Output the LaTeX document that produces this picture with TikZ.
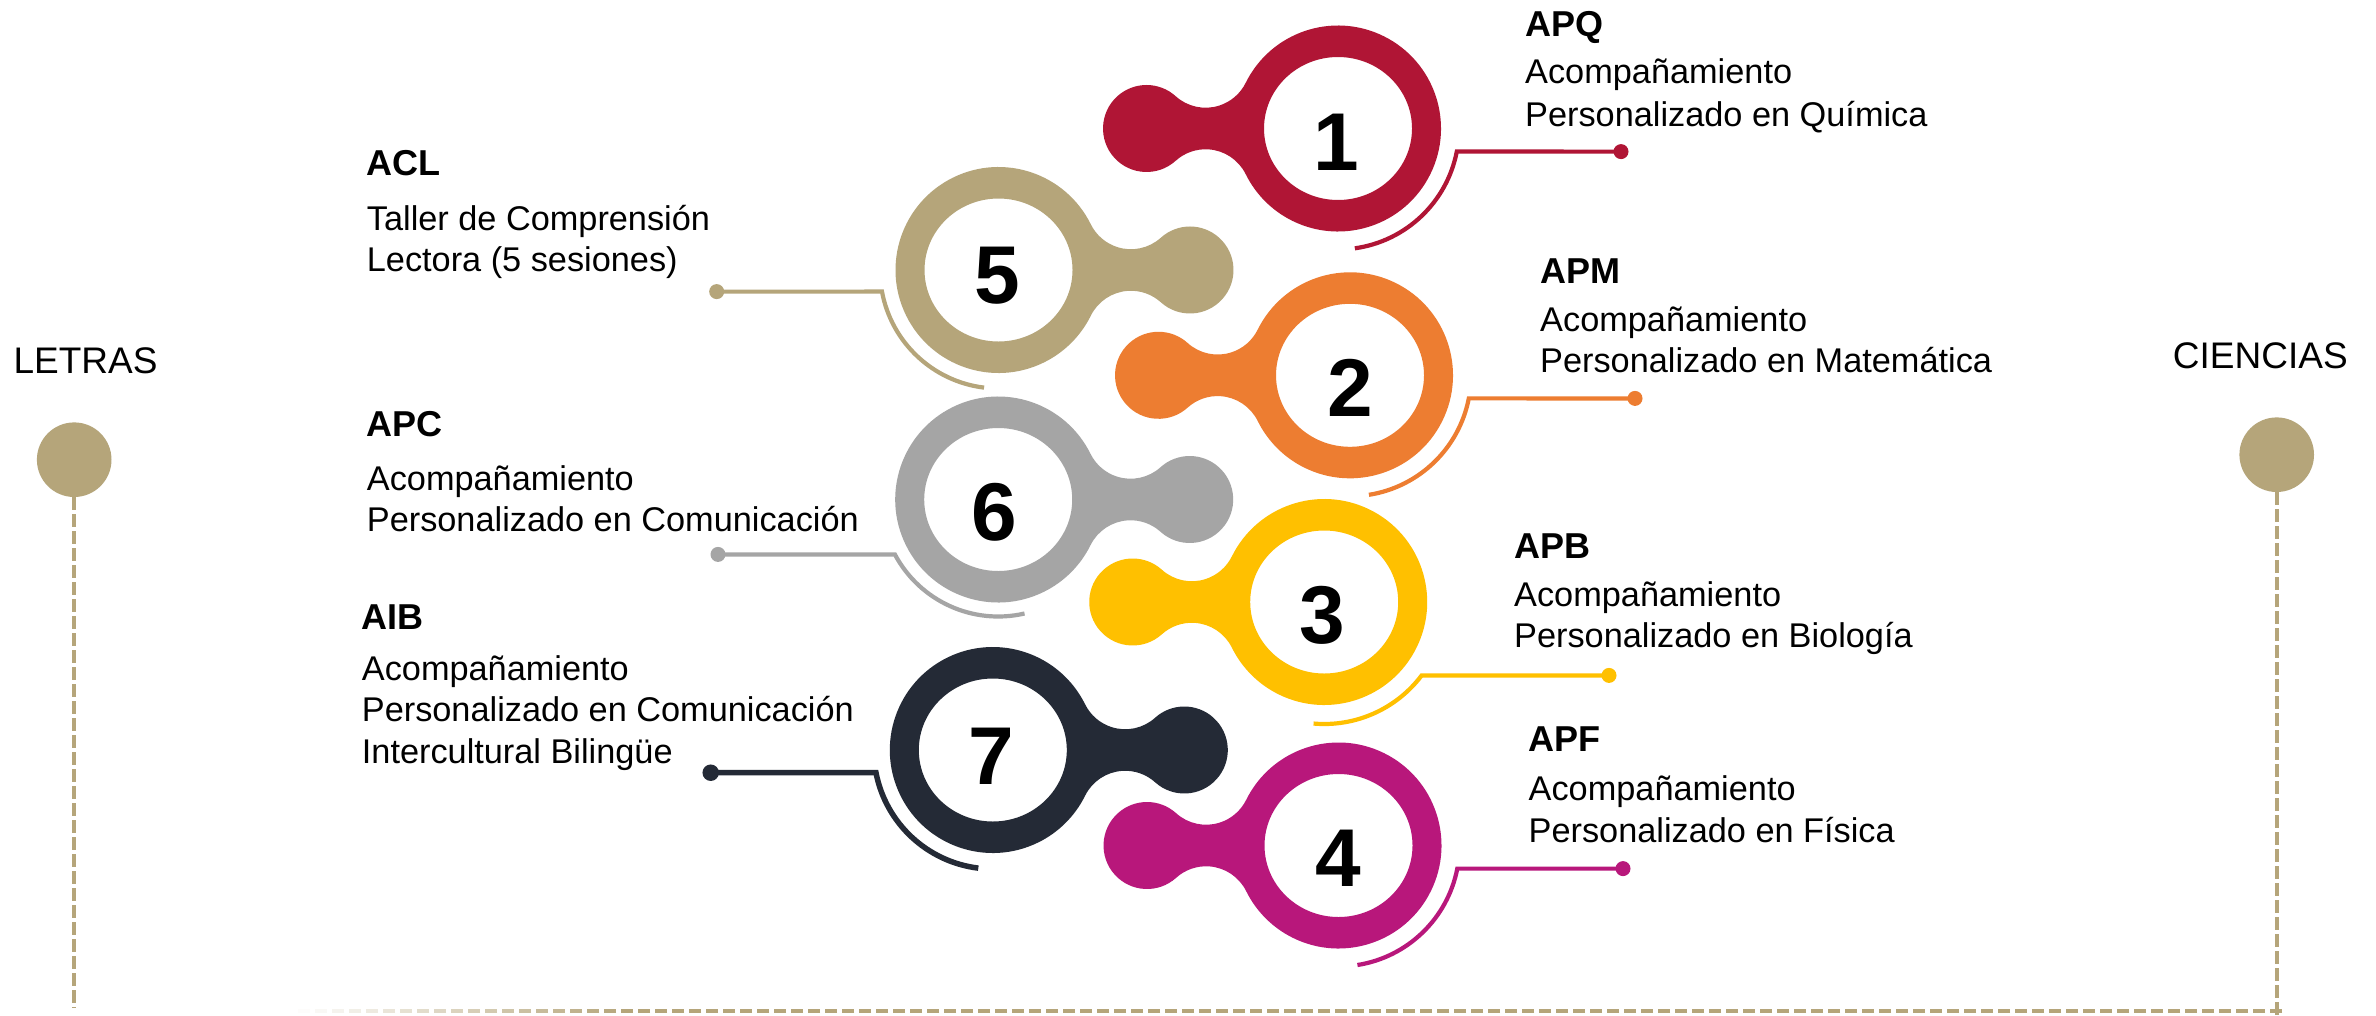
\documentclass[tikz,border=0pt]{standalone}
\usepackage{fontspec}
\setmainfont{Liberation Sans}
\definecolor{cRed}{HTML}{B01535}
\definecolor{cOrange}{HTML}{ED7D31}
\definecolor{cYellow}{HTML}{FFC000}
\definecolor{cMagenta}{HTML}{B8177B}
\definecolor{cTan}{HTML}{B5A57A}
\definecolor{cGray}{HTML}{A5A5A5}
\definecolor{cDark}{HTML}{242A36}
\newcommand\blobshape[4]{%
  \begin{scope}[shift={(#2,#3)}, xscale=#4]
    \fill[#1, even odd rule] (-26.31:103) arc[start angle=-26.31, end angle=-333.69, radius=103]
      arc[start angle=-153.69, end angle=-47.93, radius=44.7]
      arc[start angle=132.07, end angle=-132.07, radius=43.5]
      arc[start angle=47.93, end angle=153.69, radius=44.7] -- cycle
      (0,0) ellipse[x radius=74, y radius=71.5];
  \end{scope}}
\begin{document}
\begin{tikzpicture}[x=1pt, y=-1pt,
  hdr/.style={font=\fontsize{36}{40}\selectfont\bfseries, anchor=base west, inner sep=0pt},
  txt/.style={font=\fontsize{34.3}{40}\selectfont, anchor=base west, inner sep=0pt},
  num/.style={font=\fontsize{82}{90}\selectfont\bfseries, anchor=base, inner sep=0pt},
  side/.style={font=\fontsize{37}{40}\selectfont, anchor=base west, inner sep=0pt},
  dotnode/.style={circle, fill=#1, minimum size=15pt, inner sep=0pt},
  conn/.style={draw=#1, line width=4.2pt},
  dashline/.style={draw=cTan, line width=4pt, dash pattern=on 12.5pt off 4.5pt}]
\fill[white] (0,0) rectangle (2376,1015);
\useasboundingbox (0,0) rectangle (2376,1015);

% ring centres
\coordinate (c1) at (1338,128.5);
\coordinate (c2) at (1350,375.3);
\coordinate (c3) at (1324.2,602);
\coordinate (c4) at (1338.5,845.5);
\coordinate (c5) at (998.5,270);
\coordinate (c6) at (998.2,499.5);
\coordinate (c7) at (992.8,750);

% shapes
\blobshape{cRed}{1338}{128.5}{-1}
\blobshape{cOrange}{1350}{375.3}{-1}
\blobshape{cYellow}{1324.2}{602}{-1}
\blobshape{cMagenta}{1338.5}{845.5}{-1}
\blobshape{cTan}{998.5}{270}{1}
\blobshape{cGray}{998.2}{499.5}{1}
\blobshape{cDark}{992.8}{750}{1}

% numbers
\node[num] (n1) at (1336,170.5) {1};
\node[num] (n2) at (1350.3,416.5) {2};
\node[num] (n3) at (1322.5,643.5) {3};
\node[num] (n4) at (1338.3,886) {4};
\node[num] (n5) at (997.3,303.5) {5};
\node[num] (n6) at (994,540) {6};
\node[num] (n7) at (991.7,784) {7};

% connector corners
\coordinate (k1) at ([shift={(11:121)}]c1);
\coordinate (k2) at ([shift={(11:121)}]c2);
\coordinate (k3) at ([shift={(37:122)}]c3);
\coordinate (k4) at ([shift={(11:121)}]c4);
\coordinate (k5) at ([shift={(169.5:118.5)}]c5);
\coordinate (k6) at ([shift={(152:117)}]c6);
\coordinate (k7) at ([shift={(169:119)}]c7);

% dots
\node[dotnode=cRed] (d1) at (1621,151.6) {};
\node[dotnode=cOrange] (d2) at (1635,398.4) {};
\node[dotnode=cYellow] (d3) at (1609,675.4) {};
\node[dotnode=cMagenta] (d4) at (1623,868.6) {};
\node[dotnode=cTan] (d5) at (716.7,291.6) {};
\node[dotnode=cGray] (d6) at (718,554.4) {};
\node[dotnode=cDark, minimum size=16.5pt] (d7) at (710.7,772.7) {};

% connectors
\draw[conn=cRed] (d1.center) -- (k1) arc[start angle=11, end angle=82, radius=121];
\draw[conn=cOrange] (d2.center) -- (k2) arc[start angle=11, end angle=81, radius=121];
\draw[conn=cYellow] (d3.center) -- (k3) arc[start angle=37, end angle=95, radius=122];
\draw[conn=cMagenta] (d4.center) -- (k4) arc[start angle=11, end angle=81, radius=121];
\draw[conn=cTan] (d5.center) -- (k5) arc[start angle=169.5, end angle=97, radius=118.5];
\draw[conn=cGray] (d6.center) -- (k6) arc[start angle=152, end angle=77, radius=117];
\draw[conn=cDark, line width=5.5pt] (d7.center) -- (k7) arc[start angle=169, end angle=97, radius=119];

% right texts
\node[hdr] (hq) at (1525,36) {APQ};
\node[txt] (q1) at (1525,83.3) {Acompañamiento};
\node[txt] (q2) at (1525,126) {Personalizado en Química};
\node[hdr] (hm) at (1540,283.3) {APM};
\node[txt] (m1) at (1540,331.7) {Acompañamiento};
\node[txt] (m2) at (1540,372.5) {Personalizado en Matemática};
\node[hdr] (hb) at (1514,558.3) {APB};
\node[txt] (b1) at (1514,606.7) {Acompañamiento};
\node[txt] (b2) at (1514,647.3) {Personalizado en Biología};
\node[hdr] (hf) at (1528.5,751.7) {APF};
\node[txt] (f1) at (1528.5,800) {Acompañamiento};
\node[txt] (f2) at (1528.5,842.7) {Personalizado en Física};

% left texts
\node[hdr] (hl) at (366.7,175) {ACL};
\node[txt] (l1) at (366.7,230) {Taller de Comprensión};
\node[txt] (l2) at (366.7,271.7) {Lectora (5 sesiones)};
\node[hdr] (hc) at (366.7,436) {APC};
\node[txt] (p1) at (366.7,490) {Acompañamiento};
\node[txt] (p2) at (366.7,531) {Personalizado en Comunicación};
\node[hdr] (hi) at (361.7,629.3) {AIB};
\node[txt] (i1) at (361.7,680) {Acompañamiento};
\node[txt] (i2) at (361.7,721.7) {Personalizado en Comunicación};
\node[txt] (i3) at (361.7,763.3) {Intercultural Bilingüe};

% side labels and timeline
\node[side] (letras) at (13.3,373.3) {LETRAS};
\node[side] (ciencias) at (2172.7,368.8) {CIENCIAS};
\node[circle, fill=cTan, minimum size=74.6pt, inner sep=0pt] (bl) at (74.2,459.7) {};
\node[circle, fill=cTan, minimum size=74.6pt, inner sep=0pt] (br) at (2276.7,454.7) {};
\coordinate (el) at (74.2,1008);
\coordinate (er) at (2276.7,1015);
\draw[dashline] (bl.south) -- (el);
\draw[dashline] (br.south) -- (er);
\foreach \i in {0,...,118}{
  \pgfmathsetmacro\xa{2282-17*\i}
  \pgfmathsetmacro\xb{\xa-12.5}
  \pgfmathsetmacro\op{max(0,min(1,(\xb-290)/330))}
  \draw[draw=cTan, line width=4pt, opacity=\op] (\xa,1011) -- (\xb,1011);
}
\end{tikzpicture}
\end{document}
